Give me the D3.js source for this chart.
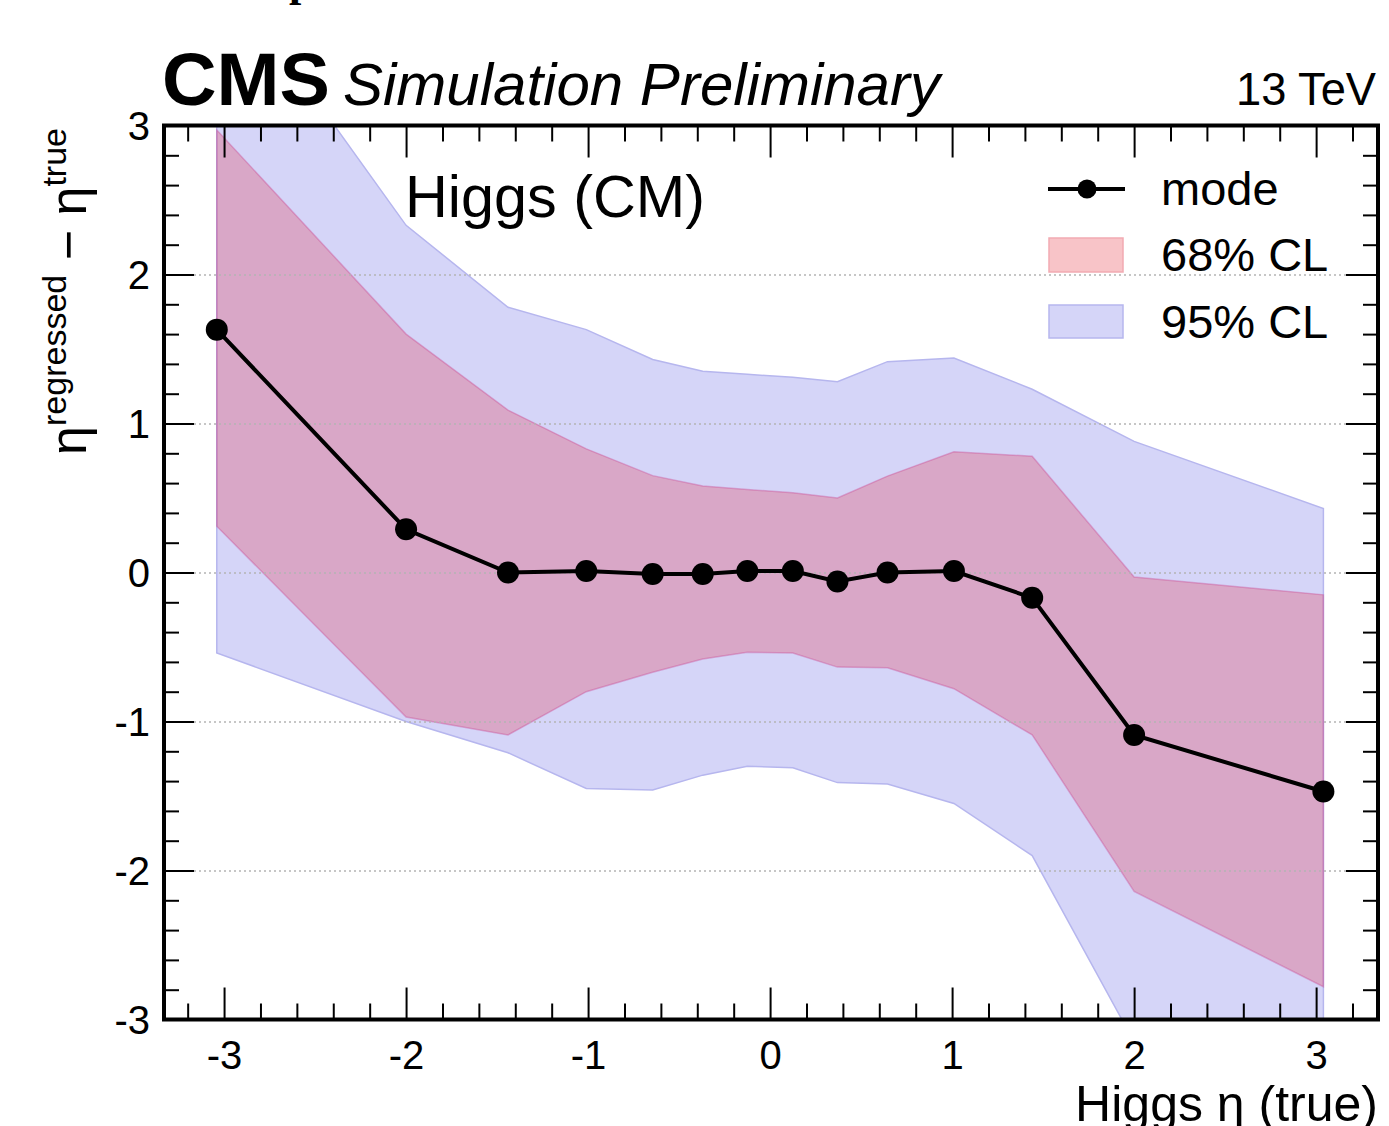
<!DOCTYPE html>
<html>
<head>
<meta charset="utf-8">
<script src="https://cdn.jsdelivr.net/npm/d3@7"></script>
<style>
  body { margin: 0; background: #fff; }
  svg text { font-family: "Liberation Sans", Arial, Helvetica, sans-serif; fill: #000; }
</style>
</head>
<body>
<div id="chart"></div>
<script>
// bin centres in Higgs eta (true)
const etaTrue = [-3.04, -2.0, -1.44, -1.01, -0.645, -0.37, -0.125, 0.125, 0.37, 0.645, 1.01, 1.44, 2.0, 3.04];
// most probable value of eta(regressed) - eta(true)
const modeVals = [1.63, 0.29, 0.0, 0.01, -0.01, -0.01, 0.01, 0.01, -0.06, 0.0, 0.01, -0.17, -1.09, -1.47];
// 68% CL band
const cl68Lo = [0.31, -0.97, -1.09, -0.80, -0.67, -0.58, -0.535, -0.54, -0.635, -0.64, -0.78, -1.09, -2.14, -2.78];
const cl68Hi = [2.97, 1.60, 1.09, 0.83, 0.65, 0.58, 0.557, 0.536, 0.50, 0.647, 0.81, 0.78, -0.03, -0.15];
// 95% CL band
const cl95Lo = [-0.54, -1.0, -1.21, -1.45, -1.46, -1.36, -1.30, -1.31, -1.41, -1.42, -1.55, -1.90, -3.15, -3.6];
const cl95Hi = [4.1, 2.33, 1.78, 1.63, 1.43, 1.35, 1.33, 1.31, 1.28, 1.415, 1.44, 1.23, 0.88, 0.43];

const xTicks = [-3, -2, -1, 0, 1, 2, 3];
const yTicks = [-3, -2, -1, 0, 1, 2, 3];
const gridVals = [-2, -1, 0, 1, 2];
const legendLabels = ['mode', '68% CL', '95% CL'];

const width = 1389;
const height = 1126;
const frame = { left: 164, right: 1378, top: 125.5, bottom: 1019.5 };

const x = d3.scaleLinear().domain([-3.33, 3.34]).range([frame.left, frame.right]);
const y = d3.scaleLinear().domain([-3, 3]).range([frame.bottom, frame.top]);

// minor ticks every 0.2
const xMinor = d3.range(-16, 17).map(i => i / 5).filter(v => !Number.isInteger(v));
const yMinor = d3.range(-15, 16).map(i => i / 5).filter(v => !Number.isInteger(v));

const pink = 'rgba(230,30,50,0.25)';
const blue = '#d5d5f8';

const bins = etaTrue.map((e, i) => ({
    e: e, mode: modeVals[i],
    lo68: cl68Lo[i], hi68: cl68Hi[i],
    lo95: cl95Lo[i], hi95: cl95Hi[i]
}));

const svg = d3.select('#chart')
    .append('svg')
    .attr('width', width)
    .attr('height', height)
    .style('display', 'block')
    .style('background', '#fff');

svg.append('defs').append('clipPath')
    .attr('id', 'plotclip')
    .append('rect')
    .attr('x', frame.left)
    .attr('y', frame.top)
    .attr('width', frame.right - frame.left)
    .attr('height', frame.bottom - frame.top);

// bit of a caption line cut off at the top
svg.append('text')
    .attr('x', 289)
    .attr('y', -4)
    .style('font-family', '"Liberation Serif", serif')
    .style('font-weight', 'bold')
    .style('font-size', '44px')
    .text('p');

// bands
const bands = svg.append('g').attr('clip-path', 'url(#plotclip)');

const area95 = d3.area()
    .x(d => x(d.e))
    .y0(d => y(d.lo95))
    .y1(d => y(d.hi95));

const area68 = d3.area()
    .x(d => x(d.e))
    .y0(d => y(d.lo68))
    .y1(d => y(d.hi68));

bands.append('path')
    .datum(bins)
    .attr('d', area95)
    .attr('fill', blue)
    .attr('stroke', '#b6b6ee')
    .attr('stroke-width', 1.5);

bands.append('path')
    .datum(bins)
    .attr('d', area68)
    .attr('fill', pink)
    .attr('stroke', 'rgba(200,60,140,0.35)')
    .attr('stroke-width', 1.5);

// horizontal dotted grid
const grid = svg.append('g')
    .attr('class', 'grid')
    .attr('transform', `translate(${frame.left},0)`)
    .call(d3.axisLeft(y).tickValues(gridVals).tickSize(-(frame.right - frame.left)).tickFormat(''));
grid.select('.domain').remove();
grid.selectAll('line')
    .attr('stroke', '#b4b4b4')
    .attr('stroke-width', 1.5)
    .attr('stroke-dasharray', '2,3');

// mode line with markers
const plot = svg.append('g').attr('clip-path', 'url(#plotclip)');
const line = d3.line()
    .x(d => x(d.e))
    .y(d => y(d.mode));

plot.append('path')
    .datum(bins)
    .attr('d', line)
    .attr('fill', 'none')
    .attr('stroke', '#000')
    .attr('stroke-width', 4);

plot.selectAll('circle.pt')
    .data(bins)
    .enter()
    .append('circle')
    .attr('class', 'pt')
    .attr('cx', d => x(d.e))
    .attr('cy', d => y(d.mode))
    .attr('r', 11)
    .attr('fill', '#000');

// axes: ticks on all four sides, pointing inwards
function tickAxis(gen, tf, size, vals) {
    const g = svg.append('g')
        .attr('transform', tf)
        .call(gen.tickValues(vals).tickSize(size).tickFormat(''));
    g.select('.domain').remove();
    g.selectAll('line').attr('stroke-width', 2);
    return g;
}

tickAxis(d3.axisBottom(x), `translate(0,${frame.bottom})`, -16, xMinor);
tickAxis(d3.axisTop(x), `translate(0,${frame.top})`, -16, xMinor);
tickAxis(d3.axisTop(x), `translate(0,${frame.top})`, -32, xTicks);
tickAxis(d3.axisLeft(y), `translate(${frame.left},0)`, -15, yMinor);
tickAxis(d3.axisRight(y), `translate(${frame.right},0)`, -15, yMinor);
tickAxis(d3.axisRight(y), `translate(${frame.right},0)`, -32, yTicks);

const xAxis = svg.append('g')
    .attr('transform', `translate(0,${frame.bottom})`)
    .call(d3.axisBottom(x).tickValues(xTicks).tickSize(-32).tickFormat(d => String(d)));
xAxis.select('.domain').remove();
xAxis.selectAll('line').attr('stroke-width', 2);
xAxis.selectAll('text')
    .attr('y', 49)
    .attr('dy', null)
    .style('font-size', '40px')
    .style('font-family', '"Liberation Sans", Arial, sans-serif');

const yAxis = svg.append('g')
    .attr('transform', `translate(${frame.left},0)`)
    .call(d3.axisLeft(y).tickValues(yTicks).tickSize(-30).tickPadding(14).tickFormat(d => String(d)));
yAxis.select('.domain').remove();
yAxis.selectAll('line').attr('stroke-width', 2);
yAxis.selectAll('text')
    .attr('dy', '0.36em')
    .style('font-size', '40px')
    .style('font-family', '"Liberation Sans", Arial, sans-serif');

// frame
svg.append('rect')
    .attr('x', frame.left)
    .attr('y', frame.top)
    .attr('width', frame.right - frame.left)
    .attr('height', frame.bottom - frame.top)
    .attr('fill', 'none')
    .attr('stroke', '#000')
    .attr('stroke-width', 4);

// header
svg.append('text')
    .attr('x', 162)
    .attr('y', 105)
    .style('font-size', '74px')
    .style('font-weight', 'bold')
    .attr('textLength', 168)
    .attr('lengthAdjust', 'spacingAndGlyphs')
    .text('CMS');

svg.append('text')
    .attr('x', 343)
    .attr('y', 105)
    .style('font-size', '60px')
    .style('font-style', 'italic')
    .attr('textLength', 597)
    .attr('lengthAdjust', 'spacingAndGlyphs')
    .text('Simulation Preliminary');

svg.append('text')
    .attr('x', 1376)
    .attr('y', 105)
    .attr('text-anchor', 'end')
    .style('font-size', '46px')
    .attr('textLength', 140)
    .attr('lengthAdjust', 'spacingAndGlyphs')
    .text('13 TeV');

svg.append('text')
    .attr('x', 405)
    .attr('y', 217)
    .style('font-size', '59px')
    .attr('textLength', 300)
    .attr('lengthAdjust', 'spacingAndGlyphs')
    .text('Higgs (CM)');

// axis titles
const yTitle = svg.append('text')
    .attr('transform', 'translate(86,128) rotate(-90)')
    .attr('text-anchor', 'end')
    .style('font-size', '52px');
yTitle.append('tspan').text('η');
yTitle.append('tspan').attr('dy', -20).style('font-size', '34px').text('regressed');
yTitle.append('tspan').attr('dy', 20).text(' − η');
yTitle.append('tspan').attr('dy', -20).style('font-size', '34px').text('true');

svg.append('text')
    .attr('x', 1378)
    .attr('y', 1121)
    .attr('text-anchor', 'end')
    .style('font-size', '50px')
    .text('Higgs η (true)');

// legend
const legend = svg.append('g');
legend.append('line')
    .attr('x1', 1048).attr('x2', 1125)
    .attr('y1', 189).attr('y2', 189)
    .attr('stroke', '#000')
    .attr('stroke-width', 4);
legend.append('circle')
    .attr('cx', 1087).attr('cy', 189).attr('r', 9.5)
    .attr('fill', '#000');
legend.append('rect')
    .attr('x', 1049).attr('y', 238).attr('width', 74).attr('height', 34)
    .attr('fill', '#f8c4c8')
    .attr('stroke', '#f2aab2')
    .attr('stroke-width', 1.5);
legend.append('rect')
    .attr('x', 1049).attr('y', 305).attr('width', 74).attr('height', 33)
    .attr('fill', blue)
    .attr('stroke', '#b6b6ee')
    .attr('stroke-width', 1.5);

legend.selectAll('text.lab')
    .data(legendLabels)
    .enter()
    .append('text')
    .attr('class', 'lab')
    .attr('x', 1161)
    .attr('y', (d, i) => [205, 271, 338][i])
    .style('font-size', '47px')
    .text(d => d);
</script>
</body>
</html>
